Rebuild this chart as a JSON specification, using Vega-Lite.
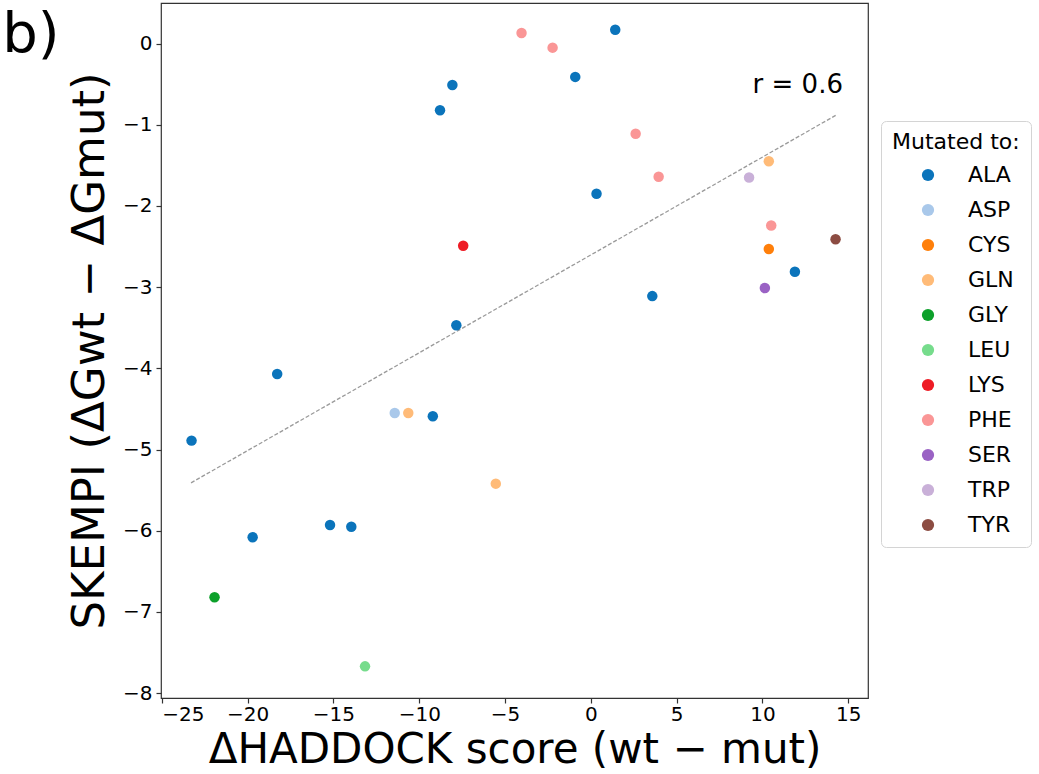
{
  "$schema": "https://vega.github.io/schema/vega-lite/v6.json",
  "width": 707,
  "height": 695,
  "autosize": {"type": "none"},
  "padding": {"left": 161, "top": 3, "right": 171, "bottom": 76},
  "background": "white",
  "config": {
    "font": "DejaVu Sans",
    "view": {"stroke": "#333333", "strokeWidth": 1.2},
    "axis": {
      "domain": false,
      "grid": false,
      "ticks": true,
      "tickColor": "#333333",
      "tickSize": 5,
      "tickWidth": 1.2,
      "labelFont": "DejaVu Sans",
      "labelFontSize": 20,
      "labelColor": "black",
      "titleFont": "DejaVu Sans",
      "titleFontSize": 45,
      "titleFontWeight": "normal",
      "titleColor": "black"
    }
  },
  "encoding": {
    "x": {
      "field": "haddock",
      "type": "quantitative",
      "scale": {"domain": [-25.05, 16.15], "nice": false, "zero": false},
      "axis": {
        "values": [-25, -20, -15, -10, -5, 0, 5, 10, 15],
        "labelPadding": 1,
        "titlePadding": 5,
        "titleFontSize": 42,
        "title": "ΔHADDOCK score (wt − mut)"
      }
    },
    "y": {
      "field": "skempi",
      "type": "quantitative",
      "scale": {"domain": [-8.06, 0.5], "nice": false, "zero": false},
      "axis": {
        "values": [-8, -7, -6, -5, -4, -3, -2, -1, 0],
        "labelPadding": 4,
        "titlePadding": 10,
        "title": "SKEMPI (ΔGwt − ΔGmut)"
      }
    }
  },
  "layer": [
    {
      "data": {
        "values": [
          {"haddock": -23.3, "skempi": -5.41},
          {"haddock": 14.3, "skempi": -0.88}
        ]
      },
      "mark": {"type": "line", "color": "#9a9a9a", "strokeWidth": 1.3, "strokeDash": [4, 2]},
      "encoding": {}
    },
    {
      "data": {
        "values": [
          {"haddock": -8.07, "skempi": -0.51, "mutation": "ALA"},
          {"haddock": -8.79, "skempi": -0.82, "mutation": "ALA"},
          {"haddock": -7.84, "skempi": -3.47, "mutation": "ALA"},
          {"haddock": 1.42, "skempi": 0.17, "mutation": "ALA"},
          {"haddock": -0.91, "skempi": -0.41, "mutation": "ALA"},
          {"haddock": 0.33, "skempi": -1.85, "mutation": "ALA"},
          {"haddock": 11.89, "skempi": -2.81, "mutation": "ALA"},
          {"haddock": 3.58, "skempi": -3.11, "mutation": "ALA"},
          {"haddock": -18.28, "skempi": -4.07, "mutation": "ALA"},
          {"haddock": -23.27, "skempi": -4.89, "mutation": "ALA"},
          {"haddock": -9.21, "skempi": -4.59, "mutation": "ALA"},
          {"haddock": -15.2, "skempi": -5.93, "mutation": "ALA"},
          {"haddock": -13.96, "skempi": -5.95, "mutation": "ALA"},
          {"haddock": -19.71, "skempi": -6.08, "mutation": "ALA"},
          {"haddock": -11.43, "skempi": -4.55, "mutation": "ASP"},
          {"haddock": 10.37, "skempi": -2.53, "mutation": "CYS"},
          {"haddock": 10.37, "skempi": -1.45, "mutation": "GLN"},
          {"haddock": -10.64, "skempi": -4.55, "mutation": "GLN"},
          {"haddock": -5.54, "skempi": -5.42, "mutation": "GLN"},
          {"haddock": -21.93, "skempi": -6.82, "mutation": "GLY"},
          {"haddock": -13.16, "skempi": -7.67, "mutation": "LEU"},
          {"haddock": -7.44, "skempi": -2.49, "mutation": "LYS"},
          {"haddock": -4.04, "skempi": 0.13, "mutation": "PHE"},
          {"haddock": -2.23, "skempi": -0.05, "mutation": "PHE"},
          {"haddock": 2.61, "skempi": -1.11, "mutation": "PHE"},
          {"haddock": 3.95, "skempi": -1.64, "mutation": "PHE"},
          {"haddock": 10.51, "skempi": -2.24, "mutation": "PHE"},
          {"haddock": 10.14, "skempi": -3.01, "mutation": "SER"},
          {"haddock": 9.22, "skempi": -1.65, "mutation": "TRP"},
          {"haddock": 14.26, "skempi": -2.41, "mutation": "TYR"}
        ]
      },
      "mark": {"type": "circle", "size": 110, "opacity": 1},
      "encoding": {
        "color": {
          "field": "mutation",
          "type": "nominal",
          "scale": {
            "domain": ["ALA", "ASP", "CYS", "GLN", "GLY", "LEU", "LYS", "PHE", "SER", "TRP", "TYR"],
            "range": ["#0b74bb", "#a9c8ea", "#ff7f0a", "#ffbb78", "#0ca02a", "#76dc8c", "#ee1c25", "#fa9696", "#9a62c4", "#c9b0d8", "#8c4c42"]
          },
          "legend": {
            "title": "Mutated to:",
            "orient": "none",
            "legendX": 720,
            "legendY": 118,
            "symbolType": "circle",
            "symbolSize": 150,
            "symbolStrokeWidth": 0,
            "symbolOpacity": 1,
            "symbolOffset": 25,
            "labelOffset": 29,
            "labelFontSize": 22,
            "labelFont": "DejaVu Sans",
            "labelColor": "black",
            "titleFontSize": 22,
            "titleFont": "DejaVu Sans",
            "titleFontWeight": "normal",
            "titleColor": "black",
            "titlePadding": 10,
            "rowPadding": 13,
            "padding": 11,
            "strokeColor": "#d4d4d4",
            "fillColor": "white",
            "cornerRadius": 5
          }
        }
      }
    },
    {
      "data": {"values": [{"haddock": 14.69, "skempi": -0.51, "label": "r = 0.6"}]},
      "mark": {"type": "text", "align": "right", "baseline": "middle", "fontSize": 26, "font": "DejaVu Sans", "color": "black"},
      "encoding": {"text": {"field": "label"}}
    },
    {
      "data": {"values": [{"haddock": -34.3, "skempi": -0.1, "label": "b)"}]},
      "mark": {"type": "text", "align": "left", "baseline": "alphabetic", "fontSize": 56, "font": "DejaVu Sans", "color": "black", "clip": false},
      "encoding": {"text": {"field": "label"}}
    }
  ]
}
